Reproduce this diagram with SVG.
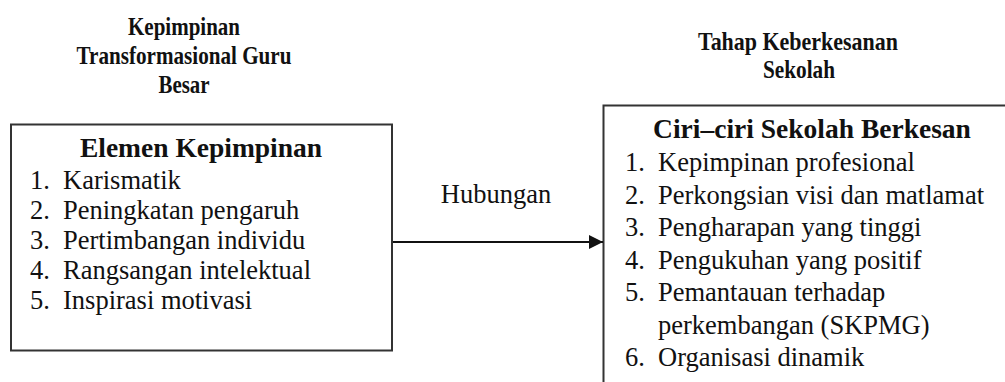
<svg xmlns="http://www.w3.org/2000/svg" width="1005" height="382" viewBox="0 0 1005 382">
<style>
.t{font-family:"Liberation Serif","Times New Roman",serif;font-size:26px;font-weight:bold;fill:#111;text-anchor:middle}
.h{font-family:"Liberation Serif","Times New Roman",serif;font-size:27.5px;font-weight:bold;fill:#111;text-anchor:middle}
.b{font-family:"Liberation Serif","Times New Roman",serif;font-size:26.5px;fill:#111}
.box{fill:#fff;stroke:#333;stroke-width:2}
.ln{stroke:#111;stroke-width:2;fill:none}
</style>
<defs>
<marker id="ah" viewBox="0 0 14 14" refX="14" refY="7" markerWidth="14" markerHeight="14" markerUnits="userSpaceOnUse" orient="auto">
<path d="M0,0 L14,7 L0,14 Z" fill="#111"/>
</marker>
</defs>
<rect width="1005" height="382" fill="#fff"/>
<g id="title-left">
<text class="t" x="184" y="35" textLength="112" lengthAdjust="spacingAndGlyphs">Kepimpinan</text>
<text class="t" x="184" y="64" textLength="215" lengthAdjust="spacingAndGlyphs">Transformasional Guru</text>
<text class="t" x="184" y="93" textLength="51" lengthAdjust="spacingAndGlyphs">Besar</text>
</g>
<g id="title-right">
<text class="t" x="798" y="50" textLength="200" lengthAdjust="spacingAndGlyphs">Tahap Keberkesanan</text>
<text class="t" x="799" y="78" textLength="72" lengthAdjust="spacingAndGlyphs">Sekolah</text>
</g>
<g id="node-left">
<rect class="box" x="11" y="124.5" width="381" height="226"/>
<text class="h" x="201" y="157">Elemen Kepimpinan</text>
<text class="b" x="30" y="189">1.</text><text class="b" x="63" y="189">Karismatik</text>
<text class="b" x="30" y="219">2.</text><text class="b" x="63" y="219">Peningkatan pengaruh</text>
<text class="b" x="30" y="249">3.</text><text class="b" x="63" y="249">Pertimbangan individu</text>
<text class="b" x="30" y="279">4.</text><text class="b" x="63" y="279">Rangsangan intelektual</text>
<text class="b" x="30" y="309">5.</text><text class="b" x="63" y="309">Inspirasi motivasi</text>
</g>
<g id="node-right">
<rect class="box" x="603.5" y="105.5" width="420" height="300"/>
<text class="h" x="812" y="138">Ciri–ciri Sekolah Berkesan</text>
<text class="b" x="625" y="171">1.</text><text class="b" x="658" y="171">Kepimpinan profesional</text>
<text class="b" x="625" y="204">2.</text><text class="b" x="658" y="204">Perkongsian visi dan matlamat</text>
<text class="b" x="625" y="236">3.</text><text class="b" x="658" y="236">Pengharapan yang tinggi</text>
<text class="b" x="625" y="269">4.</text><text class="b" x="658" y="269">Pengukuhan yang positif</text>
<text class="b" x="625" y="301">5.</text><text class="b" x="658" y="301">Pemantauan terhadap</text>
<text class="b" x="658" y="334">perkembangan (SKPMG)</text>
<text class="b" x="625" y="366">6.</text><text class="b" x="658" y="366">Organisasi dinamik</text>
</g>
<g id="connectors">
<line class="ln" x1="393" y1="242" x2="603" y2="242" marker-end="url(#ah)"/>
<text class="b" x="496" y="203" text-anchor="middle">Hubungan</text>
</g>
</svg>
